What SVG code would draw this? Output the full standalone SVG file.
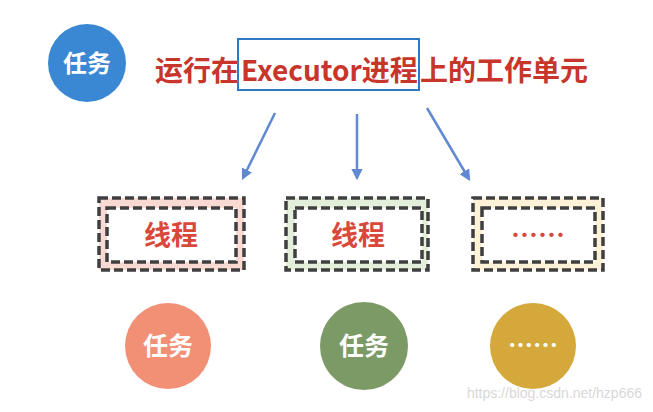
<svg xmlns="http://www.w3.org/2000/svg" width="653" height="412" viewBox="0 0 653 412">
<style>
.cjk{font-family:"Noto Sans CJK SC","Liberation Sans",sans-serif;font-weight:bold}
.title{font-size:28px;fill:#c8352b}
.wt{font-size:24px;fill:#ffffff;text-anchor:middle}
.bt{font-size:27px;fill:#d9483b;text-anchor:middle}
.dash{fill:none;stroke:#3f3f3f;stroke-width:3.5;stroke-dasharray:9 4}
.arr{stroke:#6189d2;stroke-width:2.5;fill:none;marker-end:url(#ah)}
</style>
<defs>
<marker id="ah" viewBox="0 0 10 10" refX="8" refY="5" markerWidth="4.5" markerHeight="4.5" orient="auto" markerUnits="strokeWidth">
<path d="M0,0 L10,5 L0,10 Z" fill="#6189d2"/>
</marker>
</defs>
<rect width="653" height="412" fill="#ffffff"/>
<g id="task-main">
<circle cx="87" cy="63" r="39" fill="#3a88d4"/>
<text class="cjk wt" x="87" y="72">任务</text>
</g>
<g id="title">
<rect x="238" y="39" width="181" height="51" fill="none" stroke="#2f78c4" stroke-width="2"/>
<text class="cjk title" y="81"><tspan x="155">运行在</tspan><tspan x="241">Executor进程</tspan><tspan x="420">上的工作单元</tspan></text>
</g>
<g id="connectors">
<line class="arr" x1="275" y1="113" x2="243" y2="178"/>
<line class="arr" x1="357" y1="114" x2="357" y2="178"/>
<line class="arr" x1="427" y1="108" x2="469" y2="179"/>
</g>
<g id="thread1">
<rect x="99" y="198" width="145" height="72" fill="#f9dad3"/>
<rect x="107" y="208" width="129" height="54" fill="#ffffff"/>
<rect class="dash" x="99" y="198" width="145" height="72"/>
<rect class="dash" x="107" y="208" width="129" height="54"/>
<text class="cjk bt" x="171" y="245">线程</text>
</g>
<g id="thread2">
<rect x="286" y="198" width="142" height="72" fill="#e3efdb"/>
<rect x="295" y="208" width="127" height="54" fill="#ffffff"/>
<rect class="dash" x="286" y="198" width="142" height="72"/>
<rect class="dash" x="295" y="208" width="127" height="54"/>
<text class="cjk bt" x="358" y="245">线程</text>
</g>
<g id="thread3">
<rect x="473" y="198" width="130" height="72" fill="#fdf1d7"/>
<rect x="482" y="208" width="113" height="54" fill="#ffffff"/>
<rect class="dash" x="473" y="198" width="130" height="72"/>
<rect class="dash" x="482" y="208" width="113" height="54"/>
<text class="cjk bt" x="538" y="245">……</text>
</g>
<g id="task1">
<circle cx="168" cy="346" r="43" fill="#f29076"/>
<text class="cjk wt" x="168" y="355" style="font-size:25px">任务</text>
</g>
<g id="task2">
<circle cx="364" cy="346" r="44" fill="#7c9a66"/>
<text class="cjk wt" x="364" y="355" style="font-size:25px">任务</text>
</g>
<g id="task3">
<circle cx="533" cy="346" r="43" fill="#d4a83b"/>
<text class="cjk wt" x="533" y="355" style="font-size:25px">……</text>
</g>
<text x="642" y="398" text-anchor="end" font-family="Liberation Sans, Arial, sans-serif" font-size="14" fill="#d8d8d8">https://blog.csdn.net/hzp666</text>
</svg>
